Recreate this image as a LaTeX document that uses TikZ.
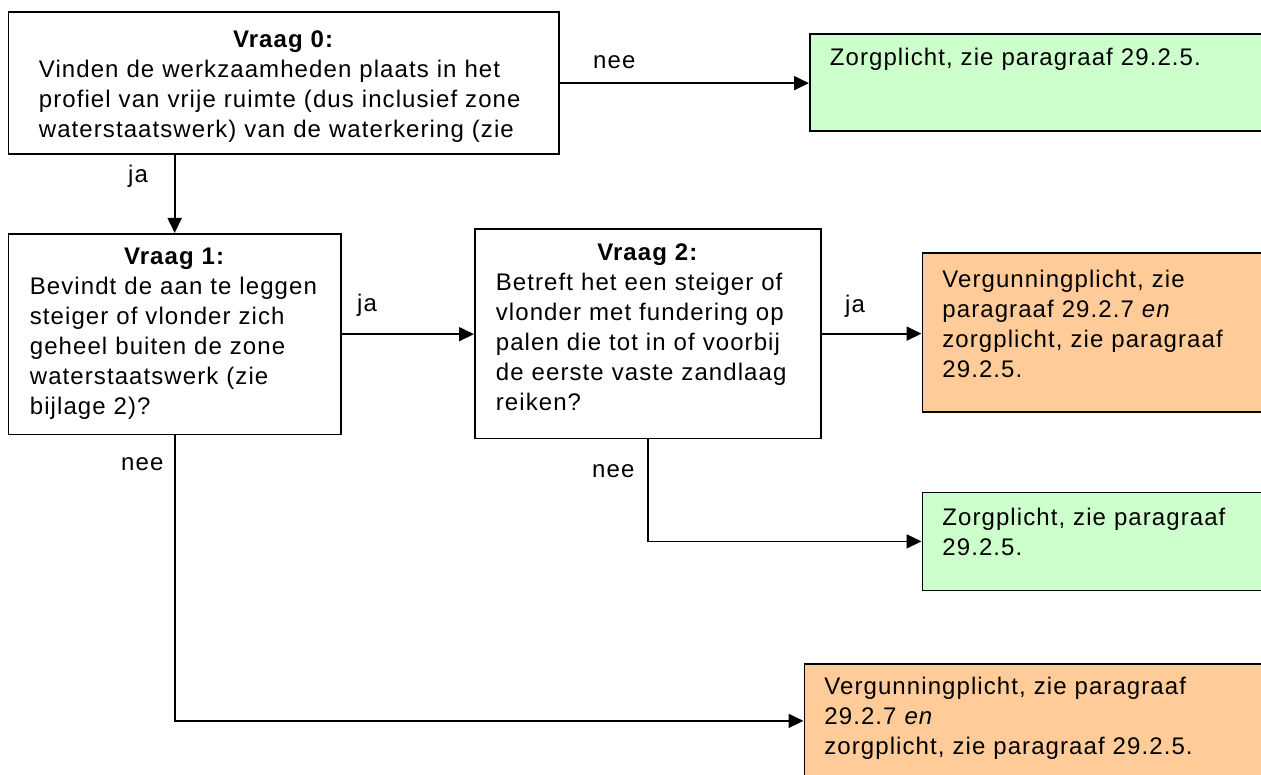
\documentclass[tikz,border=0pt]{standalone}
\usepackage{fontspec}
\setmainfont{Liberation Sans}[LetterSpace=4.5]
\usepackage{xcolor}
\usetikzlibrary{arrows.meta}
\definecolor{groen}{HTML}{CCFFCC}
\definecolor{oranje}{HTML}{FFCC99}
% centred heading line inside a box
\newcommand{\kop}[1]{\hspace*{-\leftskip}\hfill\textbf{#1}\hfill\null\\}

\begin{document}
\begin{tikzpicture}[x=1pt,y=-1pt,font=\fontsize{24}{30}\selectfont,
    vak/.style={draw,line width=1.8pt,anchor=north west,inner sep=0pt,align=left},
    vraagvak/.style={vak,fill=white},
    groenvak/.style={vak,fill=groen},
    oranjevak/.style={vak,fill=oranje},
    antwoord/.style={anchor=base west,inner sep=0pt},
    pijl/.style={line width=1.8pt,-{Triangle[length=15pt,width=14pt]}}]
  \path[use as bounding box,fill=white] (0,0) rectangle (1261,775);
  % questions
  \node[vraagvak,text width=550.5pt,text height=35.5pt,text depth=106pt] (q0) at (7.5,11.5)
    {\leftskip=30.5pt \kop{Vraag 0:}
     Vinden de werkzaamheden plaats in het\\
     profiel van vrije ruimte (dus inclusief zone\\
     waterstaatswerk) van de waterkering (zie\par};
  \node[vraagvak,text width=332.5pt,text height=31pt,text depth=169.5pt] (q1) at (7.5,233)
    {\leftskip=21.5pt \kop{Vraag 1:}
     Bevindt de aan te leggen\\
     steiger of vlonder zich\\
     geheel buiten de zone\\
     waterstaatswerk (zie\\
     bijlage 2)?\par};
  \node[vraagvak,text width=346pt,text height=31.5pt,text depth=178pt] (q2) at (474,228)
    {\leftskip=21pt \kop{Vraag 2:}
     Betreft het een steiger of\\
     vlonder met fundering op\\
     palen die tot in of voorbij\\
     de eerste vaste zandlaag\\
     reiken?\par};
  % outcomes
  \node[groenvak,text width=451.5pt,text height=31.5pt,text depth=65pt] (g1) at (809,33.5)
    {\leftskip=20pt Zorgplicht, zie paragraaf 29.2.5.\par};
  \node[oranjevak,text width=339pt,text height=34.5pt,text depth=124pt] (o1) at (921.5,252.5)
    {\leftskip=20pt Vergunningplicht, zie\\
     paragraaf 29.2.7 \emph{en}\\
     zorgplicht, zie paragraaf\\
     29.2.5.\par};
  \node[groenvak,text width=339pt,text height=33.5pt,text depth=64.5pt] (g2) at (921.5,491.5)
    {\leftskip=20pt Zorgplicht, zie paragraaf\\
     29.2.5.\par};
  \node[oranjevak,text width=457pt,text height=31pt,text depth=83pt] (o2) at (803.5,663)
    {\leftskip=20pt Vergunningplicht, zie paragraaf\\
     29.2.7 \emph{en}\\
     zorgplicht, zie paragraaf 29.2.5.\par};
  % connectors
  \draw[pijl] (q0.east) -- (q0.east -| g1.west);
  \draw[pijl] (q0.south -| q1.north) -- (q1.north);
  \draw[pijl] (q1.east) -- (q1.east -| q2.west);
  \draw[pijl] (q2.east) -- (q2.east -| o1.west);
  \draw[pijl] (q2.south) |- (g2.west);
  \draw[pijl] (q1.south) |- (o2.west);
  % answers
  \node[antwoord] (nee0) at (593,69) {nee};
  \node[antwoord] (ja0) at (128,183) {ja};
  \node[antwoord] (ja1) at (357,311.5) {ja};
  \node[antwoord] (ja2) at (845,313) {ja};
  \node[antwoord] (nee2) at (592,477) {nee};
  \node[antwoord] (nee1) at (121,470.5) {nee};
\end{tikzpicture}
\end{document}
